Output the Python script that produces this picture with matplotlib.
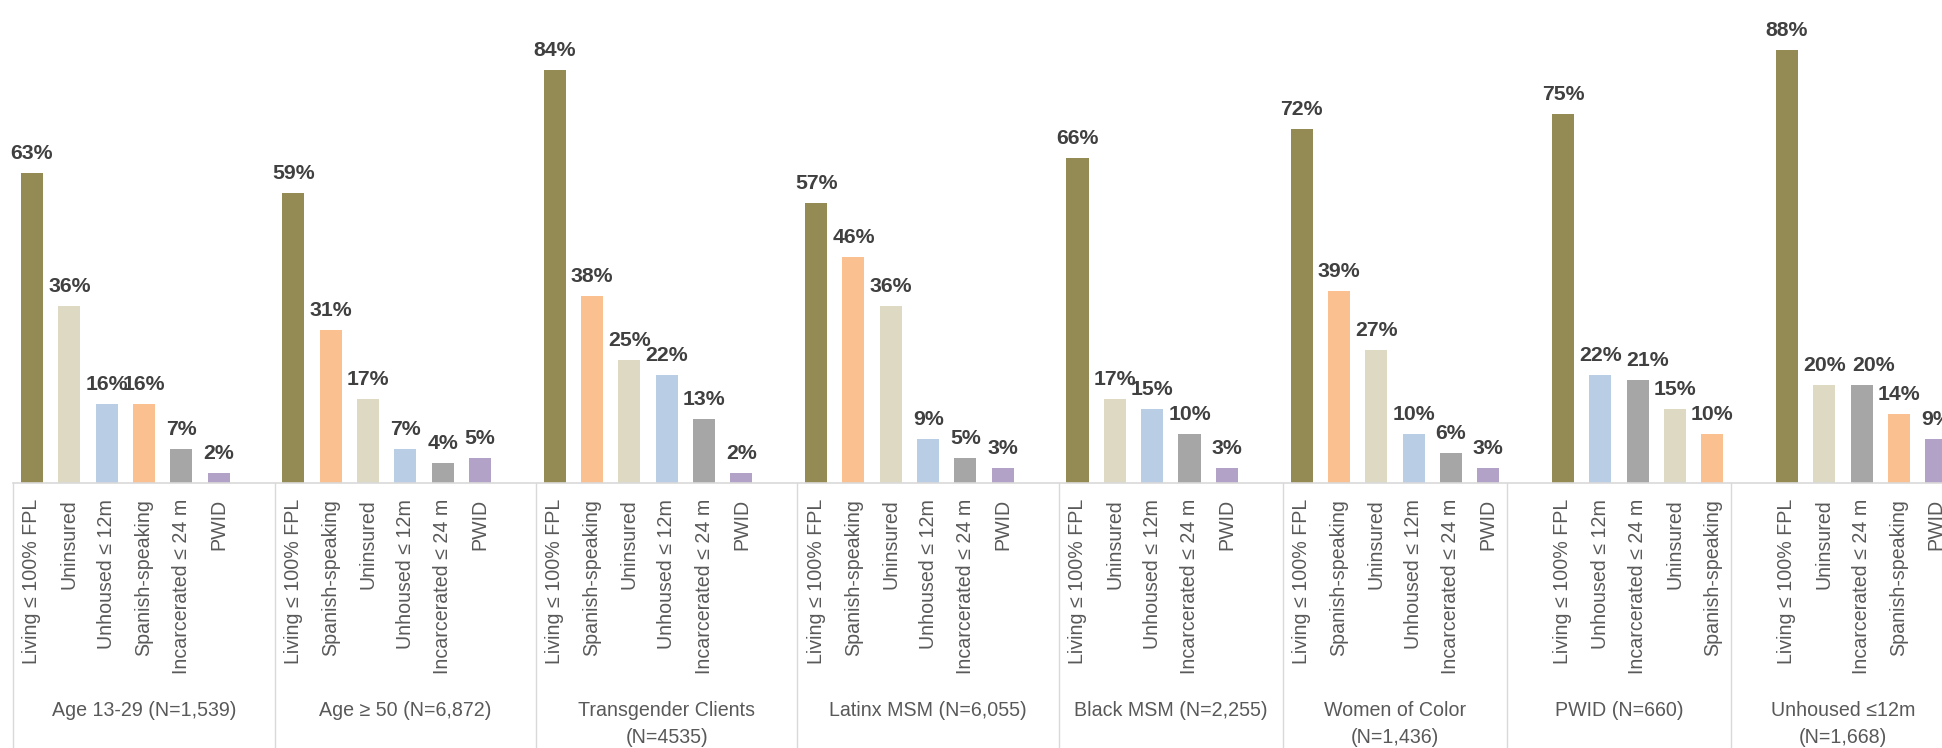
import matplotlib
matplotlib.use("Agg")
import matplotlib.pyplot as plt
from matplotlib import font_manager as fm

# ---------------- data ----------------
group_labels = [
    "Age 13-29 (N=1,539)",
    "Age \u2265 50 (N=6,872)",
    "Transgender Clients\n(N=4535)",
    "Latinx MSM (N=6,055)",
    "Black MSM (N=2,255)",
    "Women of Color\n(N=1,436)",
    "PWID (N=660)",
    "Unhoused \u226412m\n(N=1,668)",
]

LIV = "Living \u2264 100% FPL"
UNI = "Uninsured"
UNH = "Unhoused \u2264 12m"
SPA = "Spanish-speaking"
INC = "Incarcerated \u2264 24 m"
PWD = "PWID"

g1_cats = [LIV, UNI, UNH, SPA, INC, PWD]
g1_vals = [63, 36, 16, 16, 7, 2]
g2_cats = [LIV, SPA, UNI, UNH, INC, PWD]
g2_vals = [59, 31, 17, 7, 4, 5]
g3_cats = [LIV, SPA, UNI, UNH, INC, PWD]
g3_vals = [84, 38, 25, 22, 13, 2]
g4_cats = [LIV, SPA, UNI, UNH, INC, PWD]
g4_vals = [57, 46, 36, 9, 5, 3]
g5_cats = [LIV, UNI, UNH, INC, PWD]
g5_vals = [66, 17, 15, 10, 3]
g6_cats = [LIV, SPA, UNI, UNH, INC, PWD]
g6_vals = [72, 39, 27, 10, 6, 3]
g7_cats = [LIV, UNH, INC, UNI, SPA]
g7_vals = [75, 22, 21, 15, 10]
g8_cats = [LIV, UNI, INC, SPA, PWD]
g8_vals = [88, 20, 20, 14, 9]

group_cats = [g1_cats, g2_cats, g3_cats, g4_cats, g5_cats, g6_cats, g7_cats, g8_cats]
group_vals = [g1_vals, g2_vals, g3_vals, g4_vals, g5_vals, g6_vals, g7_vals, g8_vals]

# empty category slots before / after each group (as in the source sheet)
lead_blank = [0, 0, 0, 0, 0, 0, 1, 1]
trail_blank = [1, 1, 1, 1, 1, 0, 0, 0]

colors = {
    LIV: "#948A54",
    UNI: "#DDD9C3",
    UNH: "#B9CDE5",
    SPA: "#FAC08F",
    INC: "#A6A6A6",
    PWD: "#B3A2C7",
}

# manual nudges of some value labels (group index, bar index) -> pixels right
label_nudge = {(6, 2): 10, (7, 2): 12}

# ---------------- fonts ----------------
avail = {f.name for f in fm.fontManager.ttflist}
if "Liberation Sans Narrow" in avail:
    FAM = ["Liberation Sans Narrow", "DejaVu Sans"]
    k = 1.0
else:
    FAM = ["Liberation Sans", "DejaVu Sans"]
    k = 0.82

PX = 72.0 / 100.0  # points per pixel at dpi 100
cat_fs = 24 * k * PX
grp_fs = 24 * k * PX
val_fs = 26 * k * PX

# ---------------- figure ----------------
W, H = 1942, 748
base_px = 483
px_per_unit = 4.92
fig = plt.figure(figsize=(W / 100, H / 100), dpi=100)
ax = fig.add_axes([0, (H - base_px) / H, 1, base_px / H])
ax.set_ylim(0, base_px / px_per_unit)
slot_px = 37.34
left_px = 13.3
ax.set_xlim(-0.5 - left_px / slot_px, -0.5 + (W - left_px) / slot_px)
ax.axis("off")

def ypx(p):
    return (base_px - p) / px_per_unit

pos = 0
seps = []
for gi, (cats, vals) in enumerate(zip(group_cats, group_vals)):
    start = pos
    seps.append(start - 0.5)
    pos += lead_blank[gi]
    xs = list(range(pos, pos + len(cats)))
    pos += len(cats) + trail_blank[gi]
    ax.bar(xs, vals, width=0.59, color=[colors[c] for c in cats], zorder=2)
    for bi, (x, v, c) in enumerate(zip(xs, vals, cats)):
        dx = label_nudge.get((gi, bi), 0)
        ax.annotate(f"{v}%", (x, v), xytext=(dx * PX, 14 * PX), textcoords="offset points",
                    ha="center", va="baseline", fontsize=val_fs, fontweight="bold",
                    color="#404040", family=FAM)
        ax.text(x, ypx(499), c, rotation=90, ha="center", va="top",
                fontsize=cat_fs, color="#595959", family=FAM)
    center = (start - 0.5 + pos - 0.5) / 2
    for li, line in enumerate(group_labels[gi].split("\n")):
        ax.text(center, ypx(716 + 27 * li), line, ha="center", va="baseline",
                fontsize=grp_fs, color="#595959", family=FAM)

# baseline and group separators
ax.plot([-0.5, pos + 5], [0, 0], color="#D9D9D9", lw=1.2, clip_on=False, zorder=3)
for s in seps:
    ax.plot([s, s], [0, ypx(H + 10)], color="#D9D9D9", lw=1.0, clip_on=False, zorder=1)

fig.savefig("out.png", dpi=100)
